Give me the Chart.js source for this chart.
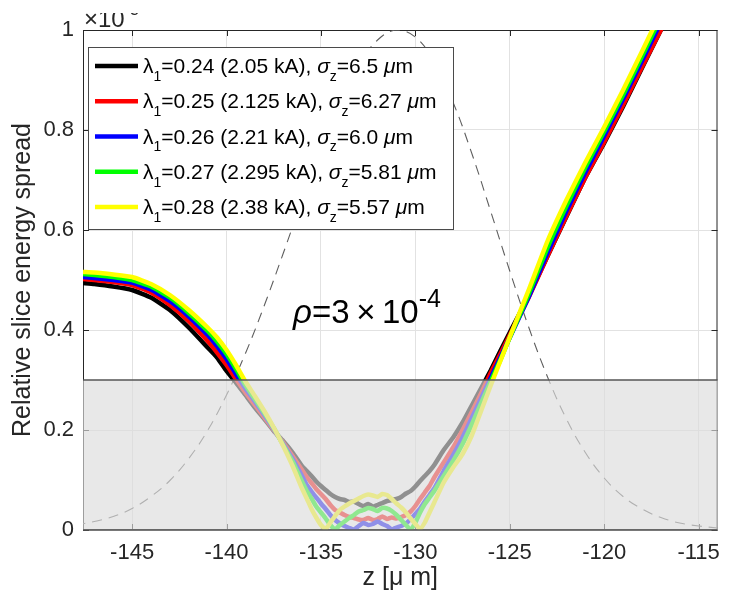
<!DOCTYPE html>
<html>
<head>
<meta charset="utf-8">
<script src="https://cdn.jsdelivr.net/npm/chart.js@4.4.1/dist/chart.umd.min.js"></script>
<style>
  html, body { margin: 0; padding: 0; background: #fff; }
  #wrap { width: 730px; height: 598px; }
</style>
</head>
<body>
<div id="wrap"><canvas id="spreadChart" width="730" height="598"></canvas></div>
<script>
// slice positions along the bunch [um]
const zGrid = [
  -147.6, -147, -146, -145, -144, -143, -142, -141, -140.5, -140, -139.5, -139, -138.5, -138, -137.5, -137, -136.5, -136,
  -135.75, -135.5, -135.25, -135, -134.75, -134.5, -134.25, -134, -133.75, -133.5, -133.25, -133, -132.75, -132.5,
  -132.25, -132, -131.75, -131.5, -131.25, -131, -130.75, -130.5, -130.25, -130, -129.75, -129.5, -129.25, -129,
  -128.5, -128, -127.5, -127, -126.5, -126, -125.5, -125, -124, -123, -122, -121, -120, -119, -118, -117, -116.5
];

// relative slice energy spread (x 1e-3), one list per lambda_1
const spreadL24 = [
  0.494, 0.492, 0.487, 0.48, 0.465, 0.44, 0.405, 0.365, 0.345, 0.318, 0.295, 0.27, 0.245, 0.222, 0.198, 0.178, 0.155, 0.128,
  0.118, 0.108, 0.097, 0.088, 0.08, 0.072, 0.066, 0.062, 0.06, 0.056, 0.057, 0.052, 0.048, 0.052,
  0.047, 0.05, 0.054, 0.058, 0.06, 0.062, 0.066, 0.073, 0.078, 0.087, 0.098, 0.108, 0.118, 0.13,
  0.16, 0.185, 0.215, 0.25, 0.285, 0.32, 0.358, 0.395, 0.468, 0.548, 0.627, 0.705, 0.774, 0.847, 0.924, 1.0, 1.04
];
const spreadL25 = [
  0.502, 0.5, 0.496, 0.49, 0.475, 0.45, 0.418, 0.378, 0.355, 0.33, 0.302, 0.275, 0.25, 0.225, 0.2, 0.175, 0.148, 0.12,
  0.106, 0.094, 0.082, 0.072, 0.062, 0.05, 0.04, 0.035, 0.03, 0.026, 0.024, 0.021, 0.02, 0.024,
  0.02, 0.022, 0.027, 0.022, 0.025, 0.023, 0.026, 0.03, 0.037, 0.048, 0.062, 0.075, 0.088, 0.105,
  0.135, 0.165, 0.2, 0.237, 0.275, 0.315, 0.352, 0.39, 0.465, 0.548, 0.628, 0.705, 0.776, 0.85, 0.926, 1.0, 1.04
];
const spreadL26 = [
  0.506, 0.504, 0.5, 0.495, 0.481, 0.458, 0.427, 0.39, 0.368, 0.342, 0.312, 0.283, 0.257, 0.23, 0.202, 0.172, 0.142, 0.108,
  0.09, 0.077, 0.065, 0.053, 0.042, 0.03, 0.02, 0.013, 0.008, 0.004, 0.001, 0.008, 0.014, 0.01,
  0.012, 0.017, 0.012, 0.008, 0.001, 0.005, 0.008, 0.013, 0.022, 0.032, 0.043, 0.057, 0.07, 0.083,
  0.118, 0.15, 0.185, 0.225, 0.265, 0.305, 0.345, 0.385, 0.466, 0.555, 0.638, 0.715, 0.788, 0.862, 0.938, 1.015, 1.05
];
const spreadL27 = [
  0.512, 0.51, 0.506, 0.5, 0.487, 0.465, 0.434, 0.398, 0.377, 0.352, 0.322, 0.29, 0.262, 0.234, 0.204, 0.17, 0.137, 0.097,
  0.078, 0.063, 0.047, 0.035, 0.023, 0.01, 0.001, 0.01, 0.017, 0.024, 0.03, 0.037, 0.04, 0.044,
  0.042, 0.038, 0.044, 0.043, 0.038, 0.03, 0.02, 0.01, 0.001, 0.015, 0.035, 0.052, 0.065, 0.078,
  0.108, 0.138, 0.172, 0.212, 0.255, 0.298, 0.34, 0.385, 0.472, 0.565, 0.648, 0.725, 0.797, 0.87, 0.947, 1.025, 1.06
];
const spreadL28 = [
  0.516, 0.515, 0.511, 0.506, 0.492, 0.47, 0.44, 0.405, 0.385, 0.36, 0.33, 0.297, 0.268, 0.238, 0.205, 0.168, 0.128, 0.083,
  0.063, 0.042, 0.025, 0.01, 0.002, 0.015, 0.028, 0.04, 0.047, 0.053, 0.058, 0.063, 0.068, 0.071,
  0.069, 0.066, 0.072, 0.07, 0.062, 0.053, 0.045, 0.035, 0.023, 0.012, 0.002, 0.015, 0.035, 0.055,
  0.095, 0.125, 0.152, 0.19, 0.24, 0.29, 0.338, 0.386, 0.48, 0.578, 0.66, 0.735, 0.806, 0.88, 0.957, 1.035, 1.07
];

// legend entries
const lambdaLabels = ['0.24', '0.25', '0.26', '0.27', '0.28'];
const peakCurrents = ['2.05', '2.125', '2.21', '2.295', '2.38'];
const sigmaZ = ['6.5', '6.27', '6.0', '5.81', '5.57'];

// normalised current profile (dashed)
const currentZ = [
  -148, -147, -146, -145, -144, -143, -142, -141, -140, -139, -138, -137, -136, -135, -134, -133, -132, -131,
  -130, -129, -128, -127, -126, -125, -124, -123, -122, -121, -120, -119, -118, -117, -116, -115, -114
];
const currentProfile = [
  0.010, 0.017, 0.027, 0.043, 0.067, 0.099, 0.143, 0.199, 0.27, 0.353, 0.449, 0.553, 0.66, 0.764, 0.856, 0.93, 0.98, 1.0,
  0.986, 0.936, 0.855, 0.752, 0.636, 0.518, 0.406, 0.306, 0.222, 0.155, 0.104, 0.067, 0.042, 0.025, 0.014, 0.008, 0.004
];

const xTicks = [-145, -140, -135, -130, -125, -120, -115];
const yTicks = [0, 0.2, 0.4, 0.6, 0.8, 1];
const threshold = 0.3;

const seriesColors = ['#000000', '#ff0000', '#0000ff', '#00ff00', '#ffff00'];
const FONT = '"Liberation Sans", Arial, Helvetica, sans-serif';
const INK = '#262626';

// draws a run of text pieces, some as subscripts / superscripts / italics
function drawRich(ctx, x, y, parts, size, small) {
  const s2 = small || Math.round(size * 0.68);
  parts.forEach(p => {
    const s = p.sub || p.sup ? s2 : size;
    ctx.font = (p.it ? 'italic ' : '') + s + 'px ' + FONT;
    const dy = p.sub ? size * 0.38 : (p.sup ? -size * 0.5 : 0);
    ctx.fillText(p.t, x, y + dy);
    x += ctx.measureText(p.t).width;
  });
  return x;
}

const decorations = {
  id: 'decorations',
  beforeDatasetsDraw(chart) {
    const {ctx, chartArea: a, scales: {x, y}} = chart;
    ctx.save();
    ctx.strokeStyle = INK;
    ctx.lineWidth = 1;
    ctx.strokeRect(a.left + 0.5, a.top + 0.5, a.right - a.left - 1, a.bottom - a.top - 1);
    const tl = 6;
    ctx.beginPath();
    xTicks.forEach(v => {
      const px = Math.round(x.getPixelForValue(v)) + 0.5;
      ctx.moveTo(px, a.bottom); ctx.lineTo(px, a.bottom - tl);
      ctx.moveTo(px, a.top); ctx.lineTo(px, a.top + tl);
    });
    yTicks.forEach(v => {
      const py = Math.round(y.getPixelForValue(v)) + 0.5;
      ctx.moveTo(a.left, py); ctx.lineTo(a.left + tl, py);
      ctx.moveTo(a.right, py); ctx.lineTo(a.right - tl, py);
    });
    ctx.stroke();
    ctx.restore();
  },
  afterDatasetsDraw(chart) {
    const {ctx, chartArea: a, scales: {y}} = chart;
    ctx.save();

    // translucent band under the threshold
    const y0 = y.getPixelForValue(0), y1 = y.getPixelForValue(threshold);
    ctx.fillStyle = 'rgba(220,220,220,0.655)';
    ctx.fillRect(a.left, y1, a.right - a.left, y0 - y1);
    ctx.strokeStyle = '#555';
    ctx.lineWidth = 1.5;
    ctx.beginPath();
    ctx.moveTo(a.left, y1); ctx.lineTo(a.right, y1);
    ctx.moveTo(a.left, y0); ctx.lineTo(a.right, y0);
    ctx.stroke();

    // legend
    const bx = 88, by = 47, bw = 365, bh = 182, rowH = 35.25;
    ctx.fillStyle = '#fff';
    ctx.fillRect(bx, by, bw, bh);
    ctx.strokeStyle = '#4a4a4a';
    ctx.lineWidth = 1;
    ctx.strokeRect(bx + 0.5, by + 0.5, bw, bh);
    ctx.textBaseline = 'alphabetic';
    ctx.textAlign = 'left';
    lambdaLabels.forEach((lam, i) => {
      const cy = by + 19 + i * rowH;
      ctx.strokeStyle = seriesColors[i];
      ctx.lineWidth = 4.5;
      ctx.beginPath();
      ctx.moveTo(95, cy); ctx.lineTo(138, cy);
      ctx.stroke();
      ctx.fillStyle = '#000';
      drawRich(ctx, 143, cy + 7, [
        {t: 'λ'}, {t: '1', sub: true},
        {t: '=' + lam + ' (' + peakCurrents[i] + ' kA), '},
        {t: 'σ', it: true}, {t: 'z', sub: true},
        {t: '=' + sigmaZ[i] + ' '}, {t: 'μ', it: true}, {t: 'm'}
      ], 21, 14);
    });

    // rho annotation
    ctx.fillStyle = '#000';
    drawRich(ctx, 293, 323, [{t: 'ρ', it: true}, {t: '=3\u2009×\u200910'}, {t: '-4', sup: true}], 33, 25);

    // exponent of the y axis
    ctx.beginPath();
    ctx.rect(0, 13, 300, 20);
    ctx.clip();
    ctx.fillStyle = INK;
    drawRich(ctx, 84, 27, [{t: '×10'}, {t: '-3', sup: true}], 24, 16);
    ctx.restore();
  }
};

const spreadSeries = [spreadL24, spreadL25, spreadL26, spreadL27, spreadL28];

const datasets = spreadSeries.map((vals, i) => ({
  label: 'lambda1=' + lambdaLabels[i],
  data: zGrid.map((z, k) => ({x: z, y: vals[k]})),
  borderColor: seriesColors[i],
  borderWidth: 4.5,
  pointRadius: 0,
  tension: 0.15,
  order: 4 - i
}));
datasets.push({
  label: 'current',
  data: currentZ.map((z, k) => ({x: z, y: currentProfile[k]})),
  borderColor: '#5e5e5e',
  borderWidth: 1.1,
  borderDash: [10, 7],
  pointRadius: 0,
  tension: 0.4,
  order: 10
});

const ctx = document.getElementById('spreadChart').getContext('2d');
new Chart(ctx, {
  type: 'line',
  data: { datasets: datasets },
  options: {
    responsive: false,
    animation: false,
    layout: { padding: { top: 30, right: 6 } },
    plugins: { legend: { display: false }, tooltip: { enabled: false } },
    scales: {
      x: {
        type: 'linear',
        min: -147.6,
        max: -114,
        afterBuildTicks: s => { s.ticks = xTicks.map(v => ({value: v})); },
        afterFit: s => { s.height = 68; },
        grid: { color: '#e2e2e2', drawTicks: false },
        border: { display: false },
        ticks: {
          padding: 10,
          color: INK,
          font: { family: FONT, size: 22 },
          callback: v => String(v)
        },
        title: {
          display: true,
          text: 'z [μ m]',
          color: INK,
          font: { family: FONT, size: 25 },
          padding: { top: 0, bottom: 5 }
        }
      },
      y: {
        min: 0,
        max: 1,
        afterBuildTicks: s => { s.ticks = yTicks.map(v => ({value: v})); },
        afterFit: s => { s.width = 83; },
        grid: { color: '#e2e2e2', drawTicks: false },
        border: { display: false },
        ticks: {
          padding: 9,
          color: INK,
          font: { family: FONT, size: 22 },
          callback: v => (v === 0 || v === 1) ? String(v) : v.toFixed(1)
        },
        title: {
          display: true,
          text: 'Relative slice energy spread',
          color: INK,
          font: { family: FONT, size: 25 },
          padding: { top: 8, bottom: 0 }
        }
      }
    }
  },
  plugins: [decorations]
});
</script>
</body>
</html>
